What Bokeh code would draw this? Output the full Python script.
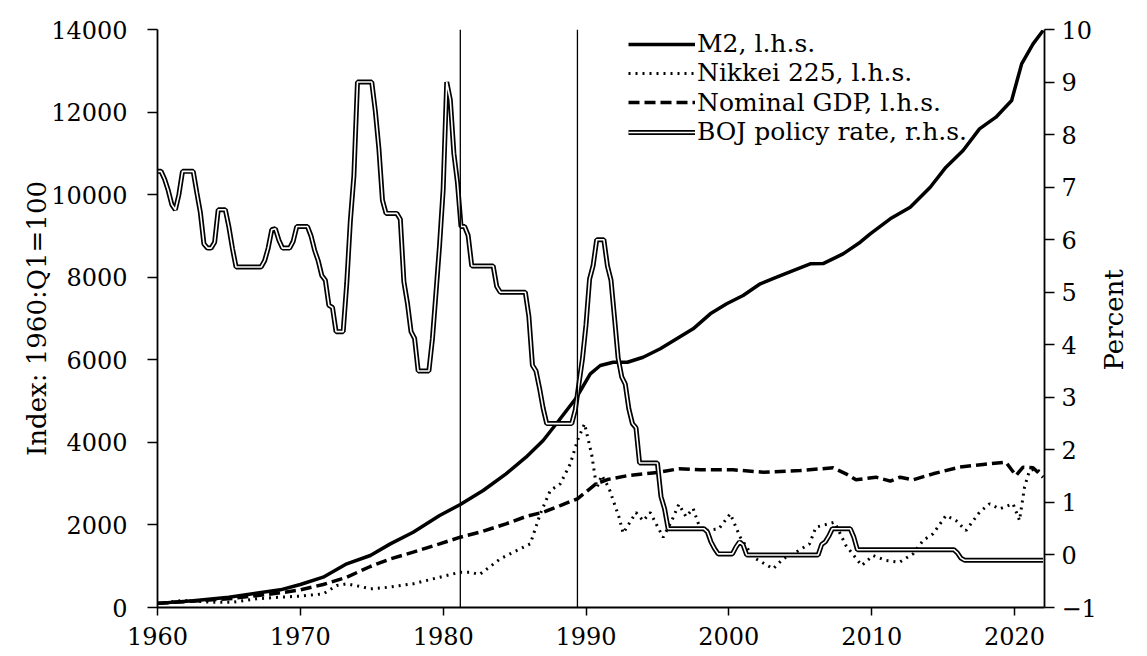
import math
from bokeh.plotting import figure
from bokeh.models import LinearAxis, Range1d, Span, Legend, LegendItem, FixedTicker
from bokeh.embed import file_html
from bokeh.resources import INLINE

FONT = "DejaVu Serif"

# ---------------- data ----------------
m2_year = [1960, 1962.5, 1965, 1968.6, 1970, 1971.6, 1973.25, 1974.9, 1976.3, 1977.9, 1979.75,
           1981.2, 1982.8, 1984.4, 1985.8, 1987.0, 1988.1, 1989.35, 1990.3, 1991.0, 1991.9,
           1992.9, 1994.0, 1995.2, 1996.35, 1997.5, 1998.7, 1999.85, 2001.0, 2002.2, 2003.35,
           2004.5, 2005.7, 2006.6, 2008.0, 2009.2, 2009.9, 2011.3, 2012.7, 2014.1, 2015.2,
           2016.4, 2017.55, 2018.7, 2019.8, 2020.5, 2021.3, 2022.0]
m2_value = [100, 165, 250, 428, 557, 734, 1058, 1259, 1541, 1824, 2228,
            2495, 2834, 3238, 3640, 4045, 4529, 5094, 5660, 5861, 5941,
            5941, 6062, 6266, 6508, 6750, 7113, 7356, 7557, 7840, 8000,
            8162, 8324, 8330, 8566, 8848, 9051, 9414, 9696, 10180, 10665,
            11069, 11594, 11876, 12280, 13168, 13653, 13975]

gdp_year = [1960, 1965.0, 1968.6, 1970.0, 1971.6, 1973.25, 1974.9, 1976.3, 1977.9, 1979.75,
            1981.2, 1982.8, 1984.4, 1985.8, 1987.0, 1988.2, 1989.4, 1990.7, 1991.5, 1993.0,
            1995.0, 1996.5, 1998.0, 2000.3, 2002.4, 2005.0, 2007.3, 2008.2, 2008.9, 2010.3,
            2011.3, 2012.0, 2012.9, 2014.3, 2016.15, 2017.8, 2019.4, 2020.1, 2020.6, 2021.3,
            2022.0]
gdp_value = [100, 210, 355, 428, 557, 734, 993, 1178, 1340, 1542,
             1703, 1848, 2027, 2204, 2309, 2470, 2632, 2996, 3100, 3200,
             3270, 3360, 3335, 3335, 3277, 3318, 3383, 3238, 3093, 3157,
             3060, 3157, 3093, 3238, 3399, 3464, 3520, 3197, 3399, 3383,
             3157]

nikkei_year = [1960, 1961.8, 1963.7, 1965.3, 1966.95, 1968.6, 1970.0, 1971.6, 1972.55, 1973.25,
               1974.2, 1974.9, 1975.8, 1977.9, 1979.75, 1981.2, 1981.9, 1982.55, 1984.0, 1985.15,
               1986.1, 1986.8, 1987.5, 1988.2, 1988.9, 1989.4, 1989.9, 1990.4, 1990.75, 1991.1,
               1991.6, 1992.3, 1992.6, 1993.5, 1994.0, 1994.5, 1995.4, 1996.0, 1996.5, 1997.0,
               1997.5, 1998.0, 1998.4, 1999.3, 2000.1, 2000.3, 2000.8, 2001.7, 2003.1, 2003.8,
               2004.7, 2005.65, 2006.1, 2007.4, 2008.2, 2009.3, 2010.1, 2011.0, 2011.95, 2012.9,
               2013.6, 2014.3, 2015.2, 2015.9, 2016.6, 2017.55, 2018.25, 2018.95, 2019.9, 2020.35,
               2020.7, 2021.05, 2021.5, 2022.0]
nikkei_value = [100, 170, 130, 130, 210, 250, 275, 331, 533, 573,
                508, 452, 476, 573, 734, 856, 856, 799, 1179, 1380,
                1542, 2269, 2834, 2996, 3480, 4045, 4450, 3700, 2900, 3200,
                2900, 2200, 1800, 2300, 2100, 2300, 1700, 2100, 2500, 2200,
                2400, 1900, 1865, 1906, 2269, 2107, 1703, 1218, 937, 1179,
                1340, 1542, 1945, 2066, 1502, 1017, 1260, 1138, 1097, 1300,
                1623, 1785, 2228, 2107, 1865, 2308, 2511, 2390, 2511, 2107,
                2914, 3318, 3359, 3238]

# BOJ policy rate, quarterly from 1960:Q1 to 2022:Q1 (percent)
rate_start = 1960
rate_q = [
    7.30, 7.30, 7.15, 6.94,   # 1960
    6.67, 6.57, 6.86, 7.30,   # 1961
    7.30, 7.30, 7.30, 6.90,   # 1962
    6.52, 5.92, 5.84, 5.84,   # 1963
    5.95, 6.57, 6.57, 6.57,   # 1964
    6.24, 5.83, 5.48, 5.48,   # 1965
    5.48, 5.48, 5.48, 5.48,   # 1966
    5.48, 5.48, 5.60, 5.84,   # 1967
    6.19, 6.21, 5.99, 5.84,   # 1968
    5.84, 5.84, 5.97, 6.25,   # 1969
    6.25, 6.25, 6.25, 6.07,   # 1970
    5.80, 5.60, 5.32, 5.23,   # 1971
    4.75, 4.71, 4.25, 4.25,   # 1972
    4.25, 5.17, 6.35, 7.22,   # 1973
    9.00, 9.00, 9.00, 9.00,   # 1974
    9.00, 8.45, 7.73, 6.75,   # 1975
    6.50, 6.50, 6.50, 6.50,   # 1976
    6.39, 5.20, 4.79, 4.25,   # 1977
    4.12, 3.50, 3.50, 3.50,   # 1978
    3.50, 4.12, 5.00, 5.90,   # 1979
    6.96, 9.00, 8.66, 7.64,   # 1980
    7.09, 6.25, 6.25, 6.08,   # 1981
    5.50, 5.50, 5.50, 5.50,   # 1982
    5.50, 5.50, 5.50, 5.11,   # 1983
    5.00, 5.00, 5.00, 5.00,   # 1984
    5.00, 5.00, 5.00, 5.00,   # 1985
    4.54, 3.61, 3.50, 3.17,   # 1986
    2.79, 2.50, 2.50, 2.50,   # 1987
    2.50, 2.50, 2.50, 2.50,   # 1988
    2.50, 2.76, 3.25, 3.73,   # 1989
    4.38, 5.25, 5.51, 6.00,   # 1990
    6.00, 6.00, 5.50, 5.23,   # 1991
    4.50, 3.75, 3.39, 3.25,   # 1992
    2.78, 2.50, 2.42, 1.75,   # 1993
    1.75, 1.75, 1.75, 1.75,   # 1994
    1.75, 1.11, 0.88, 0.50,   # 1995
    0.50, 0.50, 0.50, 0.50,   # 1996
    0.50, 0.50, 0.50, 0.50,   # 1997
    0.50, 0.50, 0.44, 0.25,   # 1998
    0.12, 0.02, 0.02, 0.02,   # 1999
    0.02, 0.02, 0.15, 0.25,   # 2000
    0.19, 0.00, 0.00, 0.00,   # 2001
    0.00, 0.00, 0.00, 0.00,   # 2002
    0.00, 0.00, 0.00, 0.00,   # 2003
    0.00, 0.00, 0.00, 0.00,   # 2004
    0.00, 0.00, 0.00, 0.00,   # 2005
    0.00, 0.00, 0.20, 0.25,   # 2006
    0.36, 0.50, 0.50, 0.50,   # 2007
    0.50, 0.50, 0.50, 0.34,   # 2008
    0.10, 0.10, 0.10, 0.10,   # 2009
    0.10, 0.10, 0.10, 0.10,   # 2010
    0.10, 0.10, 0.10, 0.10,   # 2011
    0.10, 0.10, 0.10, 0.10,   # 2012
    0.10, 0.10, 0.10, 0.10,   # 2013
    0.10, 0.10, 0.10, 0.10,   # 2014
    0.10, 0.10, 0.10, 0.10,   # 2015
    0.04, -0.06, -0.10, -0.10,  # 2016
    -0.10, -0.10, -0.10, -0.10,  # 2017
    -0.10, -0.10, -0.10, -0.10,  # 2018
    -0.10, -0.10, -0.10, -0.10,  # 2019
    -0.10, -0.10, -0.10, -0.10,  # 2020
    -0.10, -0.10, -0.10, -0.10,  # 2021
    -0.10,                       # 2022:Q1
]
rate_year = [rate_start + i / 4 for i in range(len(rate_q))]

event_years = [1981.2, 1989.4]

x_ticks = [1960, 1970, 1980, 1990, 2000, 2010, 2020]
left_ticks = [0, 2000, 4000, 6000, 8000, 10000, 12000, 14000]
right_ticks = [-1, 0, 1, 2, 3, 4, 5, 6, 7, 8, 9, 10]

labels = ["M2, l.h.s.", "Nikkei 225, l.h.s.", "Nominal GDP, l.h.s.", "BOJ policy rate, r.h.s."]
left_title = "Index: 1960:Q1=100"
right_title = "Percent"

TICK_FS = "24px"
LAB_FS = "26px"
LEG_FS = "25px"

X0, X1 = 1960, 2022.1
R0, R1 = -1, 10

# ---------------- figure ----------------
W, H = 1146, 655
FRAME_H = 607 - 29
p = figure(width=W, height=H,
           x_range=Range1d(X0, X1), y_range=Range1d(0, 14000),
           output_backend="svg", toolbar_location=None,
           min_border_left=157, min_border_right=W - 1045, min_border_top=29,
           min_border_bottom=H - 607)
p.extra_y_ranges = {"rate": Range1d(R0, R1)}
p.outline_line_color = None
p.xgrid.visible = False
p.ygrid.visible = False
p.background_fill_color = "white"
p.border_fill_color = "white"

for yr in event_years:
    p.add_layout(Span(location=yr, dimension="height", line_color="black", line_width=1.3))

r_m2 = p.line(m2_year, m2_value, line_color="black", line_width=3.5)
r_nk = p.line(nikkei_year, nikkei_value, line_color="black", line_width=3, line_dash="2 5")
r_gdp = p.line(gdp_year, gdp_value, line_color="black", line_width=3.5, line_dash="11 5")
r_boj_o = p.line(rate_year, rate_q, line_color="black", line_width=5, y_range_name="rate")
r_boj_i = p.line(rate_year, rate_q, line_color="white", line_width=1.6, y_range_name="rate")


def style_axis(ax):
    ax.axis_line_color = "black"
    ax.axis_line_width = 1.8
    ax.major_tick_line_color = "black"
    ax.major_tick_line_width = 1.5
    ax.major_tick_in = 0
    ax.major_tick_out = 10
    ax.minor_tick_line_color = None
    ax.major_label_text_font = FONT
    ax.major_label_text_font_size = TICK_FS
    ax.major_label_text_color = "black"
    ax.axis_label_text_font = FONT
    ax.axis_label_text_font_size = LAB_FS
    ax.axis_label_text_font_style = "normal"
    ax.axis_label_text_color = "black"


xa = p.xaxis[0]
xa.ticker = FixedTicker(ticks=x_ticks)
style_axis(xa)
xa.major_tick_out = 8
xa.major_label_standoff = 11

ya = p.yaxis[0]
ya.ticker = FixedTicker(ticks=left_ticks)
style_axis(ya)
ya.axis_label = left_title
ya.major_label_standoff = 20
ya.axis_label_standoff = -4

ra = LinearAxis(y_range_name="rate", ticker=FixedTicker(ticks=right_ticks))
style_axis(ra)
ra.major_label_standoff = 7
p.add_layout(ra, "right")

# right-hand title, reading bottom-to-top like the left one (a bare second axis).
# The rotated label starts at its anchor, so the anchor sits half a text length
# below the middle of the axis to centre the word.
half_text_px = 52
anchor = (R0 + R1) / 2 - half_text_px * (R1 - R0) / FRAME_H
rt = LinearAxis(y_range_name="rate", ticker=FixedTicker(ticks=[anchor]),
                major_label_overrides={anchor: right_title})
rt.axis_line_color = None
rt.major_tick_line_color = None
rt.minor_tick_line_color = None
rt.major_tick_in = 0
rt.major_tick_out = 0
rt.major_label_orientation = math.pi / 2
rt.major_label_standoff = 14
rt.major_label_text_font = FONT
rt.major_label_text_font_size = LAB_FS
rt.major_label_text_color = "black"
p.add_layout(rt, "right")

# legends (one per row for exact placement)
items = [[r_m2], [r_nk], [r_gdp], [r_boj_o, r_boj_i]]
row_bottoms = [548.9, 519.6, 490.3, 461.0]
for lab, rends, yb in zip(labels, items, row_bottoms):
    lg = Legend(items=[LegendItem(label=lab, renderers=rends)], location=(471, yb),
                glyph_width=67, glyph_height=20, label_height=20, label_standoff=2,
                padding=0, margin=0, spacing=0,
                border_line_color=None, background_fill_alpha=0,
                label_text_font=FONT, label_text_font_size=LEG_FS, label_text_color="black")
    p.add_layout(lg, "center")

open("out.html", "w").write(file_html(p, INLINE))
